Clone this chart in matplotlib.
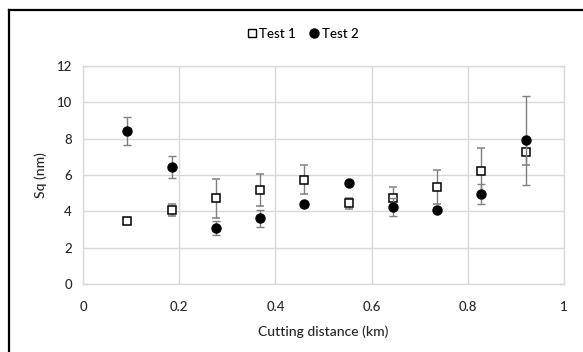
import matplotlib.pyplot as plt
from matplotlib.lines import Line2D

plt.rcParams['font.family'] = ['Lato', 'DejaVu Sans']

# cutting distance (km)
distance = [0.092, 0.184, 0.276, 0.368, 0.46, 0.552, 0.644, 0.736, 0.828, 0.92]

test1 = [3.45, 4.1, 4.72, 5.18, 5.73, 4.45, 4.72, 5.33, 6.2, 7.25]
test1_err = [0.1, 0.33, 1.08, 0.9, 0.8, 0.3, 0.6, 0.95, 1.29, 0.7]

test2 = [8.41, 6.43, 3.1, 3.62, 4.42, 5.55, 4.26, 4.06, 4.96, 7.9]
test2_err = [0.76, 0.62, 0.38, 0.47, 0.08, 0.08, 0.5, 0.08, 0.54, 2.43]

W, H = 583, 352
fig = plt.figure(figsize=(W / 100, H / 100), dpi=100)
ax = fig.add_axes([83 / W, 1 - 284 / H, (564 - 83) / W, (284 - 66) / H])

err_style = dict(ecolor='#7f7f7f', elinewidth=1.0, capsize=3, capthick=1.0, linestyle='none')
ax.errorbar(distance, test1, yerr=test1_err, marker='s', markersize=6,
            markerfacecolor='white', markeredgecolor='black', markeredgewidth=1.1,
            zorder=3, **err_style)
ax.errorbar(distance, test2, yerr=test2_err, marker='o', markersize=6.5,
            markerfacecolor='black', markeredgecolor='black',
            zorder=4, **err_style)

ax.set_xlim(0, 1)
ax.set_ylim(0, 12)
ax.set_xticks([0, 0.2, 0.4, 0.6, 0.8, 1])
ax.set_xticklabels(['0', '0.2', '0.4', '0.6', '0.8', '1'])
ax.set_yticks(range(0, 13, 2))
ax.grid(True, color='#d9d9d9', linewidth=1.0)
ax.set_axisbelow(True)
for s in ax.spines.values():
    s.set_color('#d9d9d9')
    s.set_linewidth(1.0)
ax.tick_params(length=0, labelsize=9.5, colors='#262626')
ax.tick_params(axis='x', pad=12)
ax.tick_params(axis='y', pad=8)
for lbl in ax.get_xticklabels() + ax.get_yticklabels():
    lbl.set_fontweight('medium')

ax.set_xlabel('Cutting distance (km)', fontsize=10, color='#262626', labelpad=9, fontweight='medium')
ax.set_ylabel('Sq (nm)', fontsize=10, color='#262626', labelpad=7, fontweight='medium')

handles = [
    Line2D([], [], marker='s', linestyle='none', markersize=6, markerfacecolor='white',
           markeredgecolor='black', markeredgewidth=1.0),
    Line2D([], [], marker='o', linestyle='none', markersize=6.5, markerfacecolor='black',
           markeredgecolor='black'),
]
fig.legend(handles, ['Test 1', 'Test 2'], loc='center', bbox_to_anchor=(302 / W, 1 - 34 / H),
           ncol=2, frameon=False, handletextpad=0.05, columnspacing=0.9,
           handlelength=1.0, prop={'weight': 'medium', 'size': 9.5})

# border lines around the figure
fig.add_artist(Line2D([9 / W, 9 / W], [0, 1 - 10 / H], color='black', linewidth=1.6))
fig.add_artist(Line2D([9 / W, 1], [1 - 10 / H, 1 - 10 / H], color='black', linewidth=1.6))

fig.savefig('out.png', dpi=100)
